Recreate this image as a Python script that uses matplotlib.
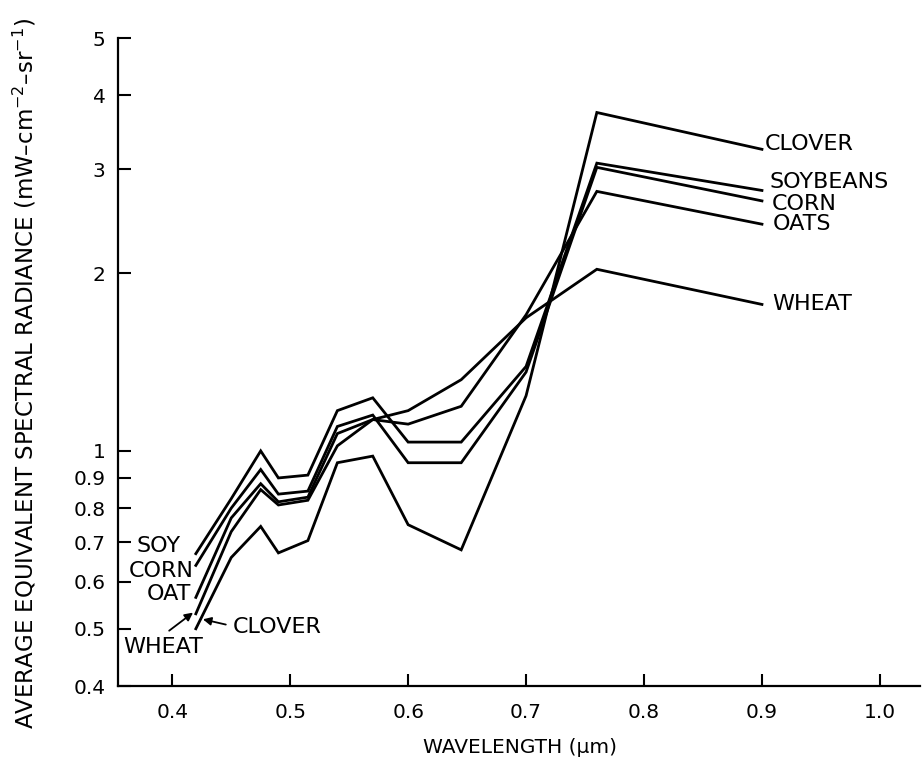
import matplotlib
matplotlib.use("Agg")
import matplotlib.pyplot as plt
from matplotlib.ticker import FixedLocator, FixedFormatter, NullLocator

# band centres of the scanner (micrometres)
wavelength = [0.42, 0.45, 0.475, 0.49, 0.515, 0.54, 0.57, 0.60, 0.645, 0.70, 0.76, 0.90]

# radiance (mW cm^-2 sr^-1)
soybeans = [0.67, 0.83, 1.00, 0.90, 0.91, 1.17, 1.23, 1.035, 1.035, 1.39, 3.07, 2.76]
corn = [0.64, 0.80, 0.93, 0.845, 0.855, 1.10, 1.15, 0.955, 0.955, 1.36, 3.02, 2.65]
oats = [0.565, 0.77, 0.88, 0.82, 0.835, 1.07, 1.13, 1.11, 1.19, 1.70, 2.75, 2.42]
wheat = [0.53, 0.73, 0.86, 0.81, 0.825, 1.02, 1.13, 1.17, 1.32, 1.68, 2.03, 1.77]
clover = [0.50, 0.66, 0.745, 0.672, 0.705, 0.955, 0.98, 0.75, 0.68, 1.24, 3.74, 3.24]

y_ticks = [0.4, 0.5, 0.6, 0.7, 0.8, 0.9, 1, 2, 3, 4, 5]
y_tick_labels = ["0.4", "0.5", "0.6", "0.7", "0.8", "0.9", "1", "2", "3", "4", "5"]
x_ticks = [0.4, 0.5, 0.6, 0.7, 0.8, 0.9, 1.0]
x_tick_labels = ["0.4", "0.5", "0.6", "0.7", "0.8", "0.9", "1.0"]

fig = plt.figure(figsize=(9.22, 7.63), dpi=100)
ax = fig.add_axes([118 / 922, 77 / 763, 802 / 922, 648 / 763])

for series in [soybeans, corn, oats, wheat, clover]:
    ax.plot(wavelength, series, color="black", lw=2.0, solid_joinstyle="miter")

ax.set_yscale("log")
ax.set_xlim(0.354, 1.034)
ax.set_ylim(0.4, 5)

ax.yaxis.set_major_locator(FixedLocator(y_ticks))
ax.yaxis.set_major_formatter(FixedFormatter(y_tick_labels))
ax.yaxis.set_minor_locator(NullLocator())
ax.set_xticks(x_ticks)
ax.set_xticklabels(x_tick_labels)

ax.spines["top"].set_visible(False)
ax.spines["right"].set_visible(False)
for s in ["left", "bottom"]:
    ax.spines[s].set_linewidth(1.6)
ax.tick_params(direction="in", length=9, width=1.5, labelsize=14.5)
ax.tick_params(axis="x", pad=12)
ax.tick_params(axis="y", pad=9)

# labels at the right end
txt = dict(fontsize=16, color="black", va="center")
ax.text(0.902, 3.31, "CLOVER", ha="left", **txt)
ax.text(0.906, 2.85, "SOYBEANS", ha="left", **txt)
ax.text(0.908, 2.62, "CORN", ha="left", **txt)
ax.text(0.909, 2.42, "OATS", ha="left", **txt)
ax.text(0.909, 1.77, "WHEAT", ha="left", **txt)

# labels at the left end
ax.text(0.407, 0.69, "SOY", ha="right", **txt)
ax.text(0.418, 0.626, "CORN", ha="right", **txt)
ax.text(0.416, 0.572, "OAT", ha="right", **txt)
ax.text(0.392, 0.466, "WHEAT", ha="center", **txt)
ax.text(0.451, 0.504, "CLOVER", ha="left", **txt)
arrow = dict(arrowstyle="-|>", color="black", lw=1.3, mutation_scale=12)
ax.annotate("", xy=(0.4195, 0.536), xytext=(0.3955, 0.493), arrowprops=arrow)
ax.annotate("", xy=(0.4237, 0.520), xytext=(0.4477, 0.507), arrowprops=arrow)

fig.text(0.027, 0.51,
         r"AVERAGE EQUIVALENT SPECTRAL RADIANCE (mW–cm$^{-2}$–sr$^{-1}$)",
         rotation=90, ha="center", va="center", fontsize=16.5)
fig.text(0.564, 0.02, "WAVELENGTH (μm)", ha="center", va="center", fontsize=14.5)

fig.savefig("out.png", dpi=100, facecolor="white")
